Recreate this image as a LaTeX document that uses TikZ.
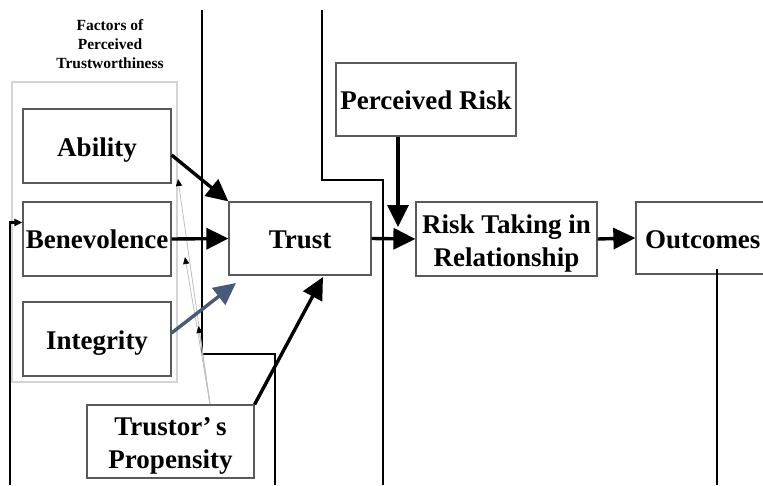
\documentclass[tikz,border=0pt]{standalone}
\usepackage{fontspec}
\setmainfont{Liberation Serif}
\usetikzlibrary{arrows.meta}
\definecolor{boxline}{RGB}{90,90,90}
\definecolor{groupline}{RGB}{212,212,212}
\definecolor{slateblue}{RGB}{72,90,122}
\definecolor{thingray}{RGB}{190,190,190}
% box label: stacked lines, set a little below the geometric centre
\newcommand\boxtext[2][4pt]{\raisebox{-#1}[\height][\depth]{\begin{tabular}{@{}c@{}}#2\end{tabular}}}
\tikzset{
  factor/.style={draw=boxline, line width=1.2pt, fill=white, inner sep=0pt,
    font=\fontsize{27}{33}\selectfont\bfseries, align=center},
  flow/.style={line width=3.4pt, -{Triangle[length=22pt, width=21pt]}},
  frame/.style={line width=2.4pt, black},
  hint/.style={thingray, line width=0.8pt, -{Triangle[length=7pt, width=6pt, black]}},
}
\begin{document}
\begin{tikzpicture}[x=1pt, y=-1pt]
\useasboundingbox (0,0) rectangle (763,485);
\clip (0,0) rectangle (763,485);

% group frame and heading
\node[draw=groupline, line width=1.2pt, minimum width=165pt, minimum height=300pt] (group) at (94.5,232) {};
\node[font=\fontsize{15.5}{19}\selectfont\bfseries, align=center] (heading) at (110,44.5)
  {Factors of\\Perceived\\Trustworthiness};

% long frame lines
\draw[frame] (202,10) -- (202,354) -- (275,354) -- (275,485);
\draw[frame] (322,10) -- (322,180) -- (383,180) -- (383,485);

% boxes
\node[factor, minimum width=148pt, minimum height=74pt] (ability) at (97,146) {\boxtext{Ability}};
\node[factor, minimum width=148pt, minimum height=74pt] (benev) at (97,239) {\boxtext[2.5pt]{Benevolence}};
\node[factor, minimum width=148pt, minimum height=74pt] (integ) at (97,339) {\boxtext{Integrity}};
\node[factor, minimum width=167pt, minimum height=73pt] (prop) at (170.5,441.5) {\boxtext{Trustor’\,s\\Propensity}};
\node[factor, minimum width=142pt, minimum height=73pt] (trust) at (300,238.5) {\boxtext[3.5pt]{Trust}};
\node[factor, minimum width=180pt, minimum height=73pt] (risk) at (426,99.5) {\boxtext[3.5pt]{Perceived Risk}};
\node[factor, minimum width=181pt, minimum height=74pt] (rtr) at (506.5,239) {\boxtext{Risk Taking in\\Relationship}};
\node[factor, minimum width=150pt, minimum height=72pt, text width=140pt, align=left] (out) at (711,238)
  {\hspace*{4pt}\boxtext[3.5pt]{Outcomes}};

% feedback lines
\coordinate (fbtop) at (10,222.5);
\draw[frame, line width=2.2pt, -{Triangle[length=8pt, width=7pt]}] (10,485) -- (fbtop) -- (benev.west |- fbtop);
\coordinate (outdrop) at (717,269);
\draw[frame] (outdrop) -- (717,485);

% faint propensity links
\coordinate (pbase) at (210,404);
\coordinate (h1) at (178,179);
\coordinate (h2) at (185,257);
\coordinate (h3) at (198.5,326);
\draw[hint] (pbase) -- (h1);
\draw[hint] (pbase) -- (h2);
\draw[hint] (pbase) -- (h3);

% main flows
\draw[flow] ([yshift=-9pt]ability.east) -- (trust.north west);
\draw[flow] (benev.east) -- (trust.west);
\coordinate (integtip) at (236,283);
\draw[flow, slateblue] ([yshift=6pt]integ.east) -- (integtip);
\coordinate (proptip) at (323,277);
\draw[flow] (prop.north east) -- (proptip);
\draw[flow] (trust.east) -- (rtr.west);
\coordinate (risktip) at (398,227);
\draw[flow] ([xshift=-28pt]risk.south) -- (risktip);
\draw[flow] (rtr.east) -- (out.west);
\end{tikzpicture}
\end{document}
